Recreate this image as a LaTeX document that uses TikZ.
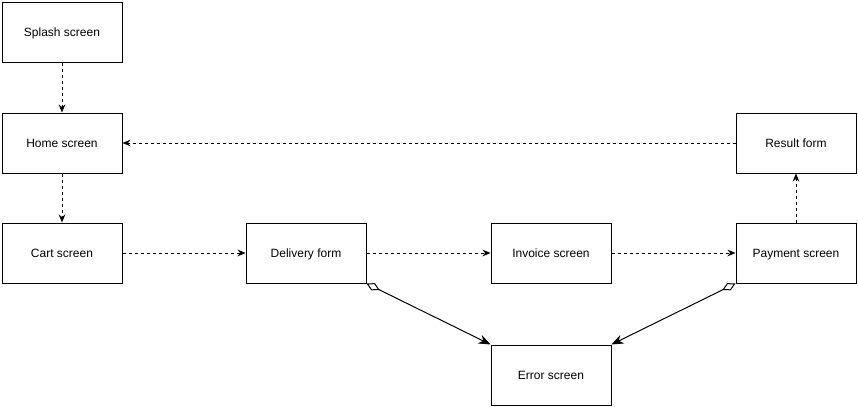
\documentclass[tikz,border=0pt]{standalone}
\usepackage{fontspec}
\setmainfont{Liberation Sans}
\usetikzlibrary{arrows.meta,positioning}
\tikzset{
  screen/.style={rectangle, draw, line width=0.75pt, minimum width=90pt, minimum height=45pt, align=center, font=\fontsize{9}{11}\selectfont, inner sep=0pt, text height=1.5ex, text depth=0.3ex},
  flow/.style={-{Stealth[length=6pt,width=5pt]}, line width=0.75pt, dash pattern=on 2.25pt off 2.25pt},
  fail/.style={{Diamond[open,length=11pt,width=6pt]}-{Stealth[length=9pt,width=7pt]}, line width=0.75pt},
}
\begin{document}
\begin{tikzpicture}[x=0.75pt,y=-0.75pt]
  \useasboundingbox (0,0) rectangle (858,407);

  % Screens
  \node[screen] (splash) at (62,32) {Splash screen};
  \node[screen] (home) at (62,143) {Home screen};
  \node[screen] (cart) at (62,253) {Cart screen};
  \node[screen] (delivery) at (306,253) {Delivery form};
  \node[screen] (invoice) at (551,253) {Invoice screen};
  \node[screen] (payment) at (796,253) {Payment screen};
  \node[screen] (result) at (796,143) {Result form};
  \node[screen] (error) at (551,375) {Error screen};

  % Main flow
  \draw[flow] (splash) -- (home);
  \draw[flow] (home) -- (cart);
  \draw[flow] (cart) -- (delivery);
  \draw[flow] (delivery) -- (invoice);
  \draw[flow] (invoice) -- (payment);
  \draw[flow] (payment) -- (result);
  \draw[flow] (result) -- (home);

  % Errors
  \draw[fail] (delivery.south east) -- (error.north west);
  \draw[fail] (payment.south west) -- (error.north east);
\end{tikzpicture}
\end{document}
